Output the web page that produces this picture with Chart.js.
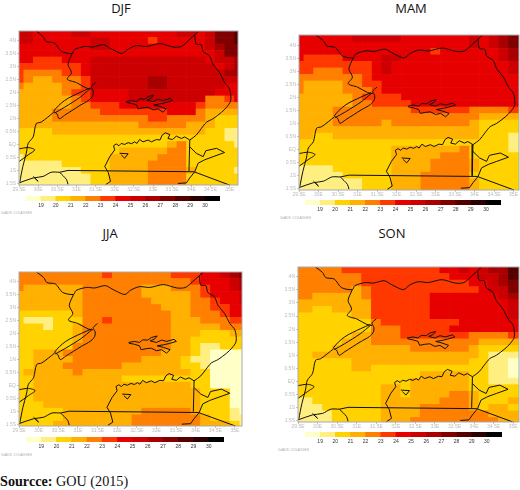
<!DOCTYPE html>
<html><head><meta charset="utf-8">
<script src="https://cdn.jsdelivr.net/npm/chart.js@4"></script>
<style>
html,body{margin:0;padding:0;background:#fff;width:520px;height:490px;overflow:hidden}
canvas{position:absolute}
.t{position:absolute;font-family:"Open Sans",sans-serif;font-size:13px;line-height:16px;color:#111;transform:translateX(-50%);white-space:nowrap}
.g{position:absolute;font-family:"Liberation Sans",sans-serif;font-size:3.4px;line-height:4px;color:#aaa;white-space:nowrap}
#src{position:absolute;left:0;top:472px;font-family:"Liberation Serif",serif;font-size:14.2px;line-height:18px;color:#111;white-space:nowrap}
</style></head><body>
<div class="t" style="left:121px;top:0">DJF</div>
<div class="t" style="left:411px;top:0">MAM</div>
<div class="t" style="left:110px;top:225px">JJA</div>
<div class="t" style="left:392px;top:225px">SON</div>
<div class="g" style="left:1px;top:211px">GrADS: COLA/IGES</div>
<div class="g" style="left:280px;top:216px">GrADS: COLA/IGES</div>
<div class="g" style="left:1px;top:453px">GrADS: COLA/IGES</div>
<div class="g" style="left:278px;top:448px">GrADS: COLA/IGES</div>
<div id="src"><b>Sourcce:</b> GOU (2015)</div>
<script>
// Grid: cell centres
const lons = [29.5,29.75,30,30.25,30.5,30.75,31,31.25,31.5,31.75,32,32.25,32.5,32.75,33,33.25,33.5,33.75,34,34.25,34.5,34.75,35,35.25];
const lats = [4.25,4,3.75,3.5,3.25,3,2.75,2.5,2.25,2,1.75,1.5,1.25,1,0.75,0.5,0.25,0,-0.25,-0.5,-0.75,-1,-1.25,-1.5];
const lonLabels = ['29.5E','30E','30.5E','31E','31.5E','32E','32.5E','33E','33.5E','34E','34.5E','35E'];
const latLabels = ['1.5S','1S','0.5S','EQ','0.5N','1N','1.5N','2N','2.5N','3N','3.5N','4N'];
const levels = [18,19,20,21,22,23,24,25,26,27,28,29,30];
const levelTicks = [19,20,21,22,23,24,25,26,27,28,29,30];
const levelColors = ['#FFFFC8','#FFEE80','#FFD200','#FFB000','#FF8000','#FF3800','#E60000','#CC0000','#A80000','#800000','#540000','#2A0000','#000000'];

// Temperature class (lower bound, deg C) per cell; rows north to south
const djf = [
[25,25,24,24,24,24,25,25,24,24,24,24,24,24,24,24,24,25,25,24,25,27,27,28],
[25,25,24,24,24,24,24,24,25,25,24,24,24,24,23,24,24,24,24,24,25,27,27,28],
[24,24,24,24,24,24,24,24,25,25,24,24,24,24,24,24,24,24,24,24,25,26,27,27],
[24,24,24,24,24,24,24,24,24,24,24,24,24,24,24,24,24,24,24,24,24,25,27,27],
[24,24,23,23,23,24,24,24,25,25,25,25,25,25,25,25,25,25,25,25,24,25,25,26],
[23,23,23,23,23,23,23,24,25,25,25,25,25,25,25,25,25,25,25,25,25,24,25,26],
[23,22,22,22,22,23,23,24,25,25,25,25,25,25,25,25,25,25,25,25,25,25,26,26],
[23,22,21,21,22,22,22,23,25,25,25,25,25,25,26,26,25,25,25,25,25,25,25,25],
[22,21,21,21,21,22,22,23,25,25,25,25,25,25,26,26,25,25,25,25,25,25,24,24],
[21,21,21,21,21,22,23,23,24,24,24,24,25,25,25,25,25,25,25,25,25,24,24,24],
[21,21,21,21,21,21,22,23,24,24,24,24,25,25,25,25,25,25,25,25,22,22,23,24],
[21,21,21,21,21,21,22,22,23,23,23,24,24,24,24,24,24,24,24,23,22,22,22,22],
[21,21,21,21,22,22,22,22,22,23,23,23,23,23,23,23,24,24,24,22,21,21,21,21],
[21,21,21,21,22,22,22,22,22,22,22,22,22,22,23,23,22,22,22,22,21,20,20,20],
[21,21,21,21,21,21,21,21,21,21,21,21,21,22,22,22,22,22,21,21,21,20,20,20],
[20,20,20,20,21,21,21,21,21,21,21,21,21,21,21,21,21,21,21,21,20,20,19,19],
[20,20,20,20,20,20,20,20,20,20,20,20,20,20,20,20,20,20,20,20,20,20,19,19],
[20,20,20,20,20,20,20,20,20,20,20,20,20,20,20,20,21,22,20,20,20,20,20,19],
[20,20,20,20,20,20,20,20,20,20,20,21,21,21,21,21,22,22,20,20,20,20,20,20],
[19,20,20,20,20,20,20,20,20,20,21,21,21,21,21,22,22,22,20,20,20,20,20,20],
[19,19,19,19,19,20,20,20,20,20,21,21,21,21,22,22,22,22,20,20,20,20,20,20],
[19,19,19,19,19,19,19,20,20,20,21,21,21,21,22,22,22,22,21,20,20,20,20,19],
[19,19,19,19,19,19,19,19,20,20,21,21,21,21,22,22,22,22,20,20,20,20,20,20],
[19,19,19,19,19,19,19,19,20,20,21,21,21,21,22,22,22,22,20,20,20,20,20,20]];
const mam = [
[24,24,24,24,24,24,25,25,25,25,25,24,24,24,24,24,24,24,25,24,25,26,27,27],
[24,24,24,24,24,24,24,24,24,24,24,24,24,24,24,24,24,24,25,24,25,26,27,27],
[24,24,24,24,24,24,24,24,24,24,24,24,24,24,23,24,24,24,24,24,24,25,26,26],
[24,23,23,23,23,24,24,24,24,25,25,24,24,24,24,24,24,24,24,24,24,25,26,26],
[23,23,23,23,23,23,23,23,24,25,24,24,24,24,24,24,24,24,24,24,24,24,25,25],
[23,23,22,22,22,23,23,23,24,25,24,24,24,24,24,24,24,24,24,24,24,24,25,25],
[22,22,22,22,22,22,22,23,24,24,24,24,24,24,24,24,24,24,24,24,24,24,24,24],
[22,21,21,21,21,22,22,23,23,24,24,24,24,24,24,24,24,24,24,24,24,24,24,24],
[22,21,21,21,21,22,22,22,23,24,24,24,24,24,24,24,24,24,24,24,24,24,24,24],
[21,21,21,21,21,21,22,23,23,23,23,24,24,24,24,24,24,24,24,24,24,24,24,24],
[21,21,21,21,21,21,22,22,23,23,23,23,24,24,24,24,24,24,24,24,24,24,24,24],
[21,21,21,21,22,22,22,22,22,22,22,22,23,23,23,23,23,23,22,22,22,22,23,23],
[21,21,21,21,22,22,22,22,22,22,22,22,22,22,22,22,22,22,22,21,21,21,21,21],
[21,21,21,21,22,22,22,22,22,21,22,22,22,22,22,22,22,22,21,20,20,20,20,20],
[21,21,21,21,21,21,21,21,21,21,21,21,21,21,21,21,21,21,21,20,20,20,20,20],
[21,21,20,20,21,21,21,21,21,21,21,21,21,21,21,21,21,21,21,20,20,20,19,19],
[20,20,20,20,20,20,20,20,20,20,20,20,20,20,20,20,20,20,20,20,20,20,19,19],
[20,20,20,20,20,20,20,20,20,20,21,21,21,21,21,21,21,22,20,20,20,20,19,19],
[20,20,20,20,20,20,20,20,20,20,21,21,21,21,21,22,22,22,20,20,20,20,20,20],
[20,20,20,20,20,20,20,20,20,20,21,21,21,21,22,22,22,22,21,20,20,20,20,20],
[19,19,19,19,20,20,20,20,20,20,21,21,21,21,22,22,22,22,21,20,20,20,20,20],
[19,19,19,19,19,20,20,20,20,20,21,21,21,22,22,22,22,22,20,20,20,20,20,20],
[19,19,19,19,19,19,19,20,20,20,21,21,21,22,22,22,22,22,21,20,20,20,20,20],
[19,19,19,19,19,19,19,20,20,20,21,21,21,22,22,22,22,22,21,20,20,20,20,20]];
const jja = [
[22,22,22,22,22,22,22,22,22,23,22,22,22,22,22,22,23,23,23,24,24,25,26,27],
[22,22,22,22,22,22,22,22,22,22,22,22,22,22,22,22,22,22,23,24,24,24,25,26],
[22,21,21,21,21,21,21,22,22,22,22,22,22,21,21,21,22,22,22,23,24,24,25,26],
[21,21,21,21,21,21,21,22,22,22,22,22,22,21,21,21,21,21,22,23,24,24,24,25],
[21,21,21,21,21,21,21,22,22,22,22,22,22,22,21,21,21,21,22,22,23,24,24,25],
[21,21,21,21,21,21,21,22,22,22,22,22,22,22,22,21,21,21,22,22,23,23,24,24],
[20,20,20,20,20,20,21,22,22,22,22,22,22,22,22,22,21,21,22,22,22,23,24,24],
[20,19,19,19,20,20,20,22,22,23,22,22,22,22,22,22,21,21,21,22,22,22,23,23],
[20,20,20,19,20,20,21,22,22,22,22,22,22,22,22,22,21,21,21,21,21,22,22,22],
[20,20,20,20,20,20,21,22,22,22,22,22,22,22,22,22,21,21,21,20,20,20,21,21],
[20,20,20,20,20,20,21,22,22,22,22,22,22,22,22,22,21,21,20,20,20,20,20,20],
[20,20,20,20,20,20,22,22,22,22,22,22,22,22,22,22,21,21,20,19,19,20,20,20],
[20,20,21,21,21,22,22,22,22,22,22,22,22,22,22,21,21,21,20,19,18,18,18,18],
[20,20,21,21,21,21,22,22,22,22,22,22,22,21,21,21,21,20,19,19,18,18,18,18],
[20,20,21,21,21,22,22,22,22,22,22,21,21,21,21,21,21,20,20,19,18,18,18,18],
[20,21,21,21,21,21,22,21,21,21,21,21,21,21,21,21,21,21,20,20,18,18,18,18],
[20,20,21,21,21,21,21,21,21,21,21,20,20,20,20,20,20,20,20,20,18,18,18,18],
[20,20,21,21,21,21,21,21,21,21,21,21,21,21,21,21,21,21,20,20,18,18,18,18],
[20,20,21,21,21,21,21,21,21,21,21,21,21,21,21,21,21,21,21,20,20,20,18,18],
[20,20,21,21,21,21,21,21,21,21,21,21,21,21,21,21,21,21,21,20,20,20,18,18],
[20,20,20,21,21,21,21,21,21,21,21,21,21,21,21,21,21,21,21,20,20,20,18,18],
[20,20,20,20,20,21,21,21,21,21,21,21,21,22,22,22,22,22,21,20,20,20,19,18],
[20,20,20,20,20,21,21,21,21,21,21,21,22,22,22,22,22,22,22,21,20,20,19,19],
[20,20,20,20,21,21,21,21,21,21,21,21,22,22,22,22,22,22,22,21,21,21,20,19]];
const son = [
[22,22,22,22,22,23,23,23,23,23,23,23,23,23,23,24,24,25,24,25,26,26,28,28],
[22,22,22,22,22,22,22,23,23,23,23,23,23,23,23,23,24,24,24,25,25,26,28,28],
[22,22,22,22,22,22,22,23,23,23,23,23,23,23,23,23,23,23,24,24,25,26,27,27],
[22,22,22,22,22,22,21,22,23,23,23,23,23,23,23,23,23,23,23,24,25,25,27,27],
[22,22,21,21,21,21,21,22,23,23,23,23,23,23,24,24,24,24,24,24,24,25,26,26],
[21,21,21,21,21,21,21,21,23,23,23,23,23,23,24,24,24,24,24,24,24,24,25,25],
[21,21,20,20,21,21,21,21,23,23,23,23,23,23,24,24,24,24,24,24,24,24,25,25],
[20,20,20,20,20,20,21,21,23,23,23,23,23,23,24,24,24,24,24,24,24,24,25,25],
[20,20,20,20,20,20,20,20,22,23,23,23,23,23,23,23,23,24,24,24,24,24,24,24],
[20,20,20,20,20,20,20,20,22,22,22,23,23,23,23,23,24,24,24,24,24,24,24,24],
[20,20,20,20,20,20,21,21,22,22,22,23,23,23,23,23,23,23,22,22,22,22,23,23],
[20,20,20,20,20,21,21,21,22,22,22,22,22,22,22,22,22,22,22,21,21,21,21,21],
[20,20,20,20,21,21,21,21,21,21,21,21,22,22,22,22,22,22,21,20,20,20,20,20],
[20,20,21,21,21,21,21,21,21,21,21,21,21,21,21,21,21,21,21,20,19,19,19,19],
[20,20,20,20,20,20,21,21,21,21,21,21,21,21,21,21,21,21,20,20,19,19,18,18],
[20,20,20,20,20,20,21,21,20,20,20,20,20,20,20,20,20,20,20,20,19,19,18,18],
[20,20,20,20,20,20,20,20,20,20,20,20,20,21,21,21,21,21,20,20,19,19,18,18],
[20,20,20,20,20,20,20,20,20,20,20,20,21,21,21,21,21,21,20,20,19,19,19,19],
[20,20,20,20,20,20,20,20,20,21,21,20,21,21,21,21,21,21,20,20,20,20,20,20],
[20,20,20,20,20,20,20,20,20,21,21,20,21,21,21,21,22,22,21,20,20,20,20,20],
[19,19,20,20,20,20,20,20,20,21,21,21,21,21,21,22,22,22,21,20,20,20,21,21],
[19,19,19,20,20,20,20,20,20,21,21,21,21,22,22,22,22,22,21,20,21,21,20,20],
[19,19,19,19,20,20,20,20,20,21,21,21,21,22,22,22,22,22,22,22,21,21,21,21],
[19,19,19,19,20,20,20,20,20,21,21,21,22,22,22,22,22,22,22,22,22,21,21,21]];

// Map outlines as [lon, lat]
const borderNorth = [[29.94,4.38],[30.13,4.16],[30.21,3.97],[30.43,3.91],[30.61,3.59],[30.89,3.51],[30.95,3.66],[31.22,3.78],[31.43,3.76],[31.7,3.85],[31.87,3.72],[32.04,3.59],[32.2,3.51],[32.35,3.68],[32.57,3.81],[32.83,3.78],[33.18,3.89],[33.52,3.76],[33.74,3.78],[33.92,4],[34.2,4.38]];
const borderEast = [[34.09,4.23],[34.13,3.87],[34.26,3.85],[34.31,3.59],[34.48,3.41],[34.57,3.09],[34.74,2.77],[34.87,2.39],[35,2.14],[35.03,1.7],[34.92,1.44],[34.79,1.25],[34.57,1],[34.4,0.87],[34.26,0.62],[34.13,0.37],[33.96,0.18]];
const borderKenyaLake = [[33.96,0.18],[33.94,-1.01]];
const borderSouth = [[30.56,-1.06],[30.78,-0.99],[34.07,-1.04],[35.01,-1.56]];
const borderSouthWest = [[29.5,-1.47],[29.87,-1.28],[30.13,-1.22],[30.34,-1.06],[30.56,-1.06]];
const borderRwanda = [[30.56,-1.06],[30.74,-1.34],[30.78,-1.53]];
const borderWest = [[30.89,3.51],[30.78,3.09],[30.87,2.77],[30.76,2.52],[31,2.39],[31.26,2.18],[31.39,2.14]];
const borderWestLower = [[30.41,1.25],[30.08,0.87],[29.95,0.81],[29.87,0.3],[29.74,0.05],[29.69,-0.33],[29.6,-0.84],[29.52,-1.44]];
const lakeAlbert = [[31.5,2.39],[31.39,2.23],[31.44,2.07],[31.43,1.9],[31.33,1.72],[31.09,1.51],[30.69,1.13],[30.55,1],[30.49,1.19],[30.41,1.29],[30.69,1.7],[31.09,2.01],[31.35,2.18]];
const lakeAlbertMid = [[31.35,2.14],[31.09,1.82],[30.69,1.44],[30.43,1.22]];
const lakeEdward = [[29.5,-0.16],[29.74,-0.11],[29.91,-0.2],[29.74,-0.39],[29.5,-0.65]];
const lakeSmall = [[29.87,-1.22],[30,-1.41],[29.91,-1.28]];
const victoriaNorth = [[31.76,-1.54],[31.89,-1.41],[31.83,-1.06],[31.74,-0.84],[31.87,-0.46],[32,-0.2],[31.97,-0.04],[32.04,0.03],[32.11,-0.04],[32.17,0.05],[32.26,0.01],[32.35,0.08],[32.44,0.04],[32.52,0.11],[32.58,0.05],[32.65,0.2],[32.74,0.11],[32.87,0.18],[32.96,0.11],[33.09,0.2],[33.18,0.18],[33.24,0.37],[33.32,0.46],[33.44,0.39],[33.39,0.24],[33.51,0.2],[33.61,0.33],[33.74,0.24],[33.83,0.3],[33.96,0.18]];
const victoriaIsland = [[32.13,-0.33],[32.35,-0.35],[32.26,-0.52],[32.17,-0.39]];
const victoriaEast = [[33.96,-0.08],[34.13,-0.33],[34.31,-0.46],[34.38,-0.23],[34.66,-0.14],[34.87,-0.3],[34.57,-0.46],[34.35,-0.58],[34.18,-0.71],[34.09,-1.04],[33.96,-1.28],[33.87,-1.47],[33.65,-1.49]];
const lakeKyoga = [[32.29,1.66],[32.44,1.7],[32.57,1.66],[32.65,1.76],[32.78,1.75],[32.87,1.85],[33.02,1.91],[32.96,1.8],[32.84,1.72],[33,1.66],[33.13,1.75],[33.26,1.7],[33.45,1.78],[33.51,1.7],[33.33,1.62],[33.18,1.57],[33.02,1.53],[33.18,1.47],[33.35,1.38],[33.26,1.25],[33.13,1.38],[33,1.34],[32.87,1.44],[32.74,1.42],[32.61,1.38],[32.57,1.53],[32.44,1.59],[32.3,1.63]];
const smoothOutlines = [borderNorth,borderEast,borderWest,borderWestLower,lakeAlbert,lakeAlbertMid,lakeEdward,borderSouthWest,borderRwanda];
const sharpOutlines = [borderKenyaLake,borderSouth,lakeSmall,victoriaNorth,victoriaIsland,victoriaEast,lakeKyoga];

const frame = {id:'frame',afterDraw(c){const a=c.chartArea,x=c.ctx;x.save();x.strokeStyle='#a9a9b0';x.lineWidth=1;x.strokeRect(a.left,a.top,a.right-a.left,a.bottom-a.top);x.restore();}};

function addCanvas(l,t,w,h){const c=document.createElement('canvas');c.width=w;c.height=h;c.style.left=l+'px';c.style.top=t+'px';c.style.width=w+'px';c.style.height=h+'px';document.body.appendChild(c);return c;}
function outlineSet(o,tension){return {type:'scatter',data:o.map(p=>({x:p[0],y:p[1]})),showLine:true,tension,pointRadius:0,borderColor:'#111',borderWidth:1,backgroundColor:'transparent',order:1};}

function drawMap(grid,box,xMax,yMax,yMin){
  const padL=22,padT=2,padR=1,padB=10;
  const cv=addCanvas(box[0]-padL,box[1]-padT,box[2]-box[0]+padL+padR,box[3]-box[1]+padT+padB);
  const cells=[],colors=[];
  lats.forEach((lat,r)=>lons.forEach((lon,k)=>{
    cells.push({x:lon,y:[lat-0.125,lat+0.125]});
    colors.push(levelColors[levels.indexOf(grid[r][k])]);
  }));
  const tickFont={family:'"Liberation Sans",sans-serif',size:5};
  new Chart(cv,{type:'bar',
    data:{datasets:[
      {type:'bar',data:cells,backgroundColor:colors,borderWidth:0,barPercentage:1,categoryPercentage:1,order:2},
      ...smoothOutlines.map(o=>outlineSet(o,0.3)),
      ...sharpOutlines.map(o=>outlineSet(o,0))
    ]},
    options:{responsive:false,animation:false,devicePixelRatio:1,
      layout:{padding:{left:0,top:padT,right:padR,bottom:0}},
      plugins:{legend:{display:false},tooltip:{enabled:false}},
      scales:{
        x:{type:'linear',offset:false,min:29.5,max:xMax,
          grid:{drawOnChartArea:false,tickLength:2,color:'#c4c4c4',offset:false},border:{display:false},
          afterFit(s){s.height=padB;},
          ticks:{stepSize:0.5,includeBounds:false,autoSkip:false,maxRotation:0,padding:0,color:'#bcbcbc',font:tickFont,callback:(v,i)=>lonLabels[i]}},
        y:{type:'linear',min:yMin,max:yMax,
          grid:{drawOnChartArea:false,tickLength:2,color:'#c4c4c4'},border:{display:false},
          afterFit(s){s.width=padL;},
          ticks:{stepSize:0.5,includeBounds:false,autoSkip:false,padding:1,color:'#bcbcbc',font:tickFont,callback:(v,i)=>latLabels[i]}}
      }},
    plugins:[frame]});
}

function drawBar(l,t,w){
  const barH=5,padB=9;
  const cv=addCanvas(l,t,w,barH+padB);
  new Chart(cv,{type:'bar',
    data:{datasets:[{data:levels.map(v=>({x:v+0.5,y:[0,1]})),backgroundColor:levelColors,borderWidth:0,barPercentage:1,categoryPercentage:1}]},
    options:{responsive:false,animation:false,devicePixelRatio:1,
      layout:{padding:0},
      plugins:{legend:{display:false},tooltip:{enabled:false}},
      scales:{
        x:{type:'linear',offset:false,min:18,max:31,
          grid:{display:true,drawOnChartArea:false,drawTicks:false},border:{display:false},
          afterFit(s){s.height=padB;},
          ticks:{stepSize:1,autoSkip:false,maxRotation:0,padding:2,color:'#333',font:{family:'"Liberation Sans",sans-serif',size:5},callback:v=>levelTicks.includes(v)?String(v):''}},
        y:{type:'linear',display:false,min:0,max:1}
      }}});
}

drawMap(djf,[19,29,238,185],35.22,4.375,-1.55);
drawMap(mam,[299,33,519,190],35.14,4.39,-1.56);
drawMap(jja,[19,270,242,426],35.18,4.375,-1.56);
drawMap(son,[298,265,519,422],35.15,4.375,-1.55);
drawBar(24,196,198);
drawBar(303,200,200);
drawBar(24,437,202);
drawBar(303,432,201);
</script></body></html>
